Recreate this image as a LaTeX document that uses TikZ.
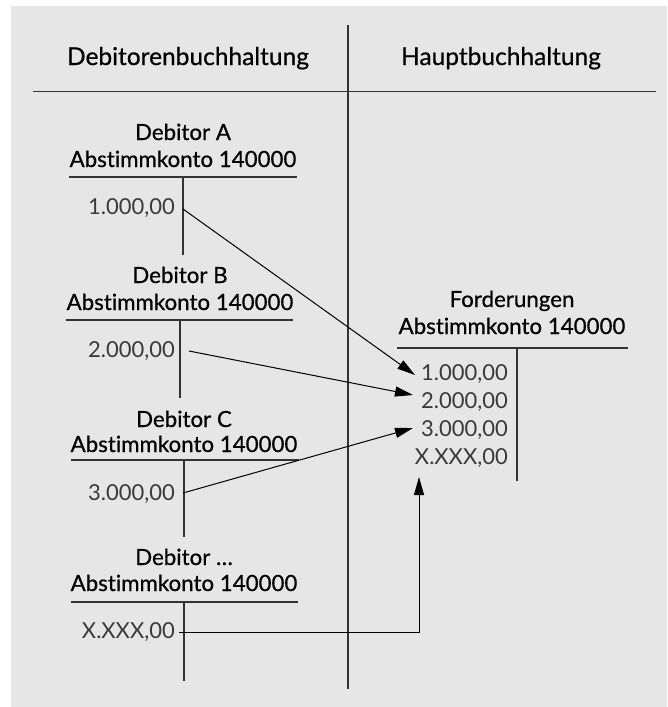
\documentclass[tikz,border=0pt]{standalone}
\usepackage{fontspec}
\setmainfont{Lato}[Ligatures=NoCommon]
\newfontfamily\titlefont{Lato}[Ligatures=NoCommon,FakeBold=0.6]
\usetikzlibrary{arrows.meta}
\definecolor{bgc}{HTML}{E6E6E6}
\definecolor{linec}{HTML}{333333}
\definecolor{valc}{HTML}{3A3A3A}
\begin{document}
\begin{tikzpicture}[x=1pt,y=-1pt,
  head/.style={font=\titlefont\fontsize{24.5}{27}\selectfont, text=black, inner sep=0pt, anchor=base},
  title/.style={font=\titlefont\fontsize{22.3}{25}\selectfont, text=black, inner sep=0pt, anchor=base},
  val/.style={font=\fontsize{22}{25}\selectfont, text=valc, inner sep=0pt, anchor=base east},
  tline/.style={draw=linec, line width=1.4pt},
  arr/.style={draw=black, line width=1pt, -{Triangle[length=18pt,width=10pt]}},
]
\useasboundingbox (0,0) rectangle (667,707);
\fill[bgc] (11,6) rectangle (667,707);

% header
\node[head] (h1) at (188,65) {Debitorenbuchhaltung};
\node[head] (h2) at (501,65) {Hauptbuchhaltung};
\draw[tline] (33,91.5) -- (656,91.5);
\draw[tline] (348,25) -- (348,689);

% Debitor A
\node[title] (a1) at (183,140) {Debitor A};
\node[title] (a2) at (183,167) {Abstimmkonto 140000};
\draw[tline] (69,177) -- (297,177);
\draw[tline] (183,177) -- (183,255);
\node[val] (av) at (175,214) {1.000,00};

% Debitor B
\node[title] (b1) at (180,283) {Debitor B};
\node[title] (b2) at (180,310) {Abstimmkonto 140000};
\draw[tline] (66,320) -- (293,320);
\draw[tline] (180,320) -- (180,398);
\node[val] (bv) at (175,357) {2.000,00};

% Debitor C
\node[title] (c1) at (184,427) {Debitor C};
\node[title] (c2) at (184,452) {Abstimmkonto 140000};
\draw[tline] (71,460) -- (299,460);
\draw[tline] (184,460) -- (184,537);
\node[val] (cv) at (175,500) {3.000,00};

% Debitor ...
\node[title] (d1) at (184,565) {Debitor …};
\node[title] (d2) at (184,591) {Abstimmkonto 140000};
\draw[tline] (71,602) -- (298,602);
\draw[tline] (184,602) -- (184,681);
\node[val] (dv) at (175,638) {X.XXX,00};

% Forderungen
\node[title] (f1) at (512,307) {Forderungen};
\node[title] (f2) at (512,334) {Abstimmkonto 140000};
\draw[tline] (397,348) -- (628,348);
\draw[tline] (517,348) -- (517,481);
\node[val] (fv1) at (508,380) {1.000,00};
\node[val] (fv2) at (508,408) {2.000,00};
\node[val] (fv3) at (508,436) {3.000,00};
\node[val] (fv4) at (508,464) {X.XXX,00};

% arrows
\coordinate (sa) at (183,209);
\coordinate (sb) at (189,351);
\coordinate (sc) at (183,493);
\coordinate (sd) at (179,632);
\coordinate (ta) at (415,375);
\coordinate (tb) at (413,395);
\coordinate (tc) at (413,428);
\coordinate (td) at (419,477);
\coordinate (kd) at (419,632);
\draw[arr] (sa) -- (ta);
\draw[arr] (sb) -- (tb);
\draw[arr] (sc) -- (tc);
\draw[arr] (sd) -- (kd) -- (td);
\end{tikzpicture}
\end{document}
